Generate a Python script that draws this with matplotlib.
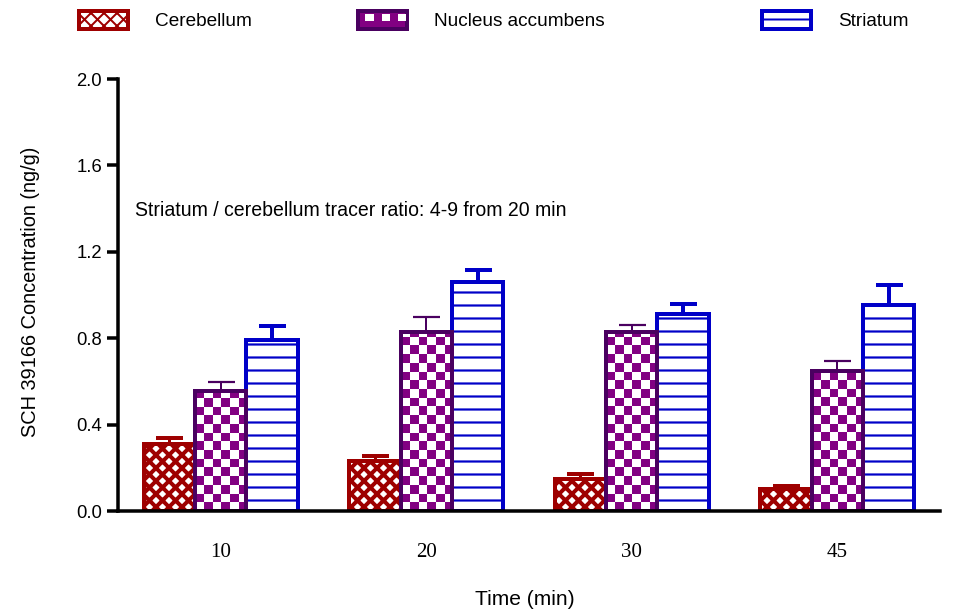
import numpy as np
import matplotlib
matplotlib.use("Agg")
import matplotlib.pyplot as plt
from matplotlib.colors import ListedColormap
from matplotlib.patches import Rectangle
from matplotlib.legend_handler import HandlerBase

# ---- data -------------------------------------------------------------
times = ["10", "20", "30", "45"]
cerebellum = [0.31, 0.23, 0.15, 0.10]
cerebellum_err = [0.03, 0.025, 0.02, 0.015]
nucleus = [0.555, 0.827, 0.827, 0.65]
nucleus_err = [0.04, 0.07, 0.035, 0.043]
striatum = [0.79, 1.058, 0.91, 0.955]
striatum_err = [0.065, 0.06, 0.05, 0.09]
series_names = ["Cerebellum", "Nucleus accumbens", "Striatum"]
y_ticks = [0.0, 0.4, 0.8, 1.2, 1.6, 2.0]

# ---- style ------------------------------------------------------------
DPI = 78
W, H = 954, 616


def pt(px):
    """pixels -> points at the figure dpi"""
    return px * 72.0 / DPI


RED = "#9E0000"
PURPLE = "#820082"
PURPLE_EDGE = "#4A0060"
BLUE = "#0000C8"
SANS = ["Liberation Sans", "DejaVu Sans"]
SERIF = ["Liberation Serif", "DejaVu Serif"]

plt.rcParams["font.family"] = SANS
plt.rcParams["hatch.linewidth"] = pt(2)

fig = plt.figure(figsize=(W / DPI, H / DPI), dpi=DPI)
ax_left, ax_right, ax_top, ax_bottom = 118, 940, 79, 511
ax = fig.add_axes([ax_left / W, 1 - ax_bottom / H,
                   (ax_right - ax_left) / W, (ax_bottom - ax_top) / H])
ax.set_xlim(-0.5, len(times) - 0.5)
ax.set_ylim(0, 2.0)

x = np.arange(len(times))
bw = 0.25

# Cerebellum: dense red cross hatch
b1 = ax.bar(x - bw, cerebellum, bw, facecolor="white", edgecolor=RED,
            linewidth=pt(4), hatch="xx", zorder=2)
for p in b1:
    if hasattr(p, "set_hatch_linewidth"):
        p.set_hatch_linewidth(pt(4))

# Nucleus accumbens: checkerboard, drawn as a clipped image
b2 = ax.bar(x, nucleus, bw, facecolor="none", edgecolor=PURPLE_EDGE,
            linewidth=pt(4), zorder=3)
cell_px = 8.7
px_per_x = (ax_right - ax_left) / (ax.get_xlim()[1] - ax.get_xlim()[0])
px_per_y = (ax_bottom - ax_top) / (ax.get_ylim()[1] - ax.get_ylim()[0])
cx, cy = cell_px / px_per_x, cell_px / px_per_y
checker_cmap = ListedColormap(["white", PURPLE])
for p in b2:
    x0, w, h = p.get_x(), p.get_width(), p.get_height()
    nx = int(np.ceil(w / cx)) + 1
    ny = int(np.ceil(h / cy)) + 1
    grid = (np.add.outer(np.arange(ny), np.arange(nx)) % 2).astype(float)
    im = ax.imshow(grid, cmap=checker_cmap, interpolation="nearest",
                   origin="lower", extent=(x0, x0 + nx * cx, 0, ny * cy),
                   aspect="auto", zorder=2)
    im.set_clip_path(p)

# Striatum: horizontal line hatch
b3 = ax.bar(x + bw, striatum, bw, facecolor="white", edgecolor=BLUE,
            linewidth=pt(4), hatch="-", zorder=2)
for p in b3:
    if hasattr(p, "set_hatch_linewidth"):
        p.set_hatch_linewidth(pt(2.2))

ax.set_xlim(-0.5, len(times) - 0.5)
ax.set_ylim(0, 2.0)

# upward-only error bars with caps
zeros = np.zeros(len(times))
ax.errorbar(x - bw, cerebellum, yerr=[zeros, cerebellum_err], fmt="none",
            ecolor=RED, elinewidth=pt(3), capsize=pt(13.5), capthick=pt(4),
            zorder=4)
ax.errorbar(x, nucleus, yerr=[zeros, nucleus_err], fmt="none",
            ecolor=PURPLE_EDGE, elinewidth=pt(2), capsize=pt(13.5),
            capthick=pt(2.2), zorder=4)
ax.errorbar(x + bw, striatum, yerr=[zeros, striatum_err], fmt="none",
            ecolor=BLUE, elinewidth=pt(4), capsize=pt(13.5), capthick=pt(4),
            zorder=4)

# axes styling
for s in ("top", "right"):
    ax.spines[s].set_visible(False)
for s in ("left", "bottom"):
    ax.spines[s].set_linewidth(pt(3.5))
    ax.spines[s].set_zorder(5)

ax.set_yticks(y_ticks)
ax.set_yticklabels([f"{v:.1f}" for v in y_ticks])
ax.tick_params(axis="y", direction="out", length=pt(11), width=pt(3.5),
               pad=pt(5), labelsize=pt(18.5))
ax.set_xticks(x)
ax.set_xticklabels(times, family=SERIF, fontsize=pt(21))
ax.tick_params(axis="x", length=0, pad=pt(32))

ax.set_xlabel("Time (min)", fontsize=pt(21))
ax.xaxis.set_label_coords((525 - ax_left) / (ax_right - ax_left),
                          -(590 - ax_bottom) / (ax_bottom - ax_top))
ax.set_ylabel("SCH 39166 Concentration (ng/g)", fontsize=pt(20))
ax.yaxis.set_label_coords(-(118 - 40) / (ax_right - ax_left),
                          (ax_bottom - 292) / (ax_bottom - ax_top))

ax.text((135 - ax_left) / (ax_right - ax_left),
        (ax_bottom - 210) / (ax_bottom - ax_top),
        "Striatum / cerebellum tracer ratio: 4-9 from 20 min",
        transform=ax.transAxes, ha="left", va="center", fontsize=pt(19.5))


# legend
class CheckerHandler(HandlerBase):
    def create_artists(self, legend, orig_handle, xdescent, ydescent,
                       width, height, fontsize, trans):
        x0, y0 = -xdescent, -ydescent
        arts = [Rectangle((x0, y0), width, height, facecolor=PURPLE,
                          edgecolor=PURPLE_EDGE, linewidth=pt(4),
                          transform=trans)]
        n = 6
        sw = width / n
        for i in range(n):
            if i % 2 == 1:
                arts.append(Rectangle((x0 + i * sw - sw * 0.1, y0 + height * 0.45),
                                      sw, height * 0.4, facecolor="white",
                                      edgecolor="none", transform=trans))
        return arts


leg_font = pt(19)
handles = [b1, b2, b3]
leg_x = [79, 358, 762]
handlers = [None, {type(b2): CheckerHandler()}, None]
for hdl, name, lx, hm in zip(handles, series_names, leg_x, handlers):
    kw = dict(handler_map=hm) if hm else {}
    fig.legend([hdl], [name], loc="upper left",
               bbox_to_anchor=(lx / W, 1 - 11 / H), frameon=False,
               borderpad=0, borderaxespad=0, handlelength=49 / 19,
               handleheight=20 / 19, handletextpad=27 / 19,
               prop={"family": SANS, "size": leg_font}, **kw)

fig.savefig("out.png", dpi=DPI)
